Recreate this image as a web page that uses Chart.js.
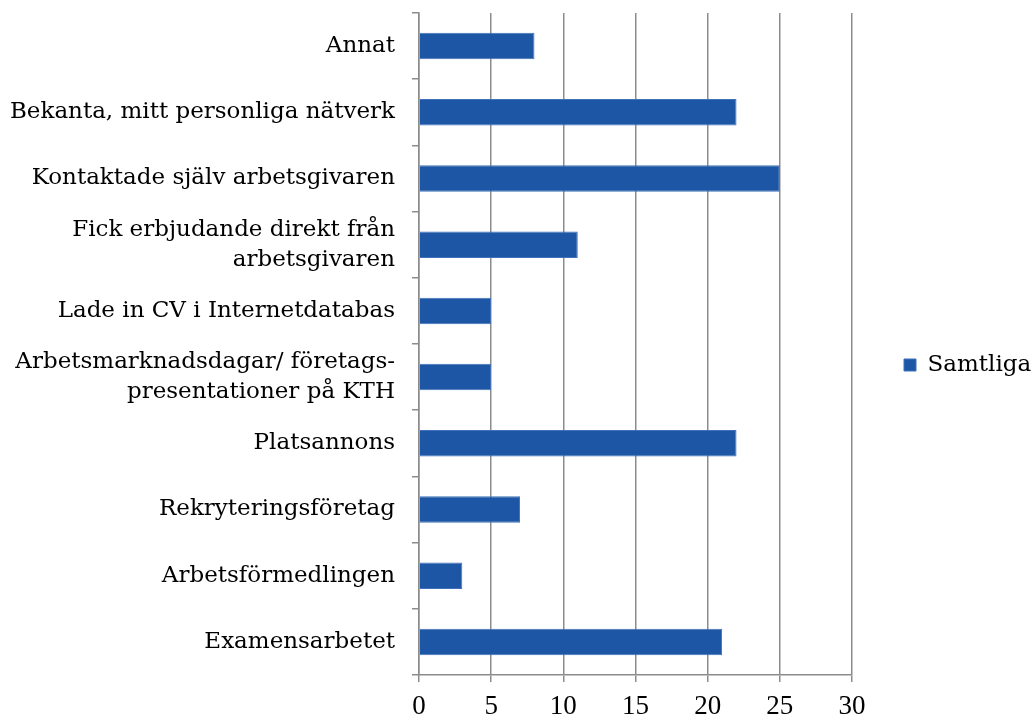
<!DOCTYPE html>
<html>
<head>
<meta charset="utf-8">
<script src="https://cdn.jsdelivr.net/npm/chart.js@4"></script>
<style>
  html, body { margin: 0; padding: 0; background: #fff; }
  #wrap { width: 1034px; height: 717px; }
</style>
</head>
<body>
<div id="wrap"><canvas id="chart"></canvas></div>
<script>
// categories, top to bottom as in the picture
const categories = [
    'Annat',
    'Bekanta, mitt personliga nätverk',
    'Kontaktade själv arbetsgivaren',
    ['Fick erbjudande direkt från', 'arbetsgivaren'],
    'Lade in CV i Internetdatabas',
    ['Arbetsmarknadsdagar/ företags-', 'presentationer på KTH'],
    'Platsannons',
    'Rekryteringsföretag',
    'Arbetsförmedlingen',
    'Examensarbetet'
];
const seriesName = 'Samtliga';
const samtliga = [8, 22, 25, 11, 5, 5, 22, 7, 3, 21];
const xTicks = [0, 5, 10, 15, 20, 25, 30];

const FONT = 'DejaVu Serif';
const NUM_FONT = 'Liberation Serif'; // taller, narrower digits like the original
const axisGray = '#8c8c8c';

const ctx = document.getElementById('chart');
new Chart(ctx, {
    type: 'bar',
    data: {
        labels: categories,
        datasets: [{
            label: seriesName,
            data: samtliga,
            backgroundColor: '#1d56a5',
            borderColor: '#3f72bb',
            borderWidth: 1,
            barPercentage: 0.4,
            categoryPercentage: 1.0
        }]
    },
    options: {
        indexAxis: 'y',
        responsive: true,
        maintainAspectRatio: false,
        animation: false,
        layout: { padding: { top: 13, right: 0, bottom: 0, left: 0 } },
        plugins: {
            tooltip: { enabled: false },
            legend: {
                position: 'right',
                maxWidth: 182,
                labels: {
                    font: { family: FONT, size: 23 },
                    color: '#000',
                    boxWidth: 12,
                    boxHeight: 12,
                    padding: 52
                }
            }
        },
        scales: {
            x: {
                min: 0,
                max: 30,
                afterBuildTicks: axis => { axis.ticks = xTicks.map(v => ({ value: v })); },
                afterFit: scale => {
                    scale.height = 42;
                    scale.paddingLeft = 0;
                    scale.paddingRight = 0;
                },
                grid: {
                    color: axisGray,
                    lineWidth: 1.5,
                    tickLength: 7,
                    drawOnChartArea: true
                },
                border: { color: axisGray, width: 1.5 },
                ticks: {
                    font: { family: NUM_FONT, size: 27, lineHeight: 1.0 },
                    color: '#000',
                    padding: 11,
                    maxRotation: 0
                }
            },
            y: {
                // the labels are wide, keep the axis where the reference has it
                afterFit: scale => {
                    scale.width = 419;
                    scale.paddingTop = 0;
                    scale.paddingBottom = 0;
                },
                grid: {
                    offset: true,
                    color: axisGray,
                    lineWidth: 1.5,
                    tickLength: 7,
                    drawOnChartArea: false
                },
                border: { color: axisGray, width: 1.5 },
                ticks: {
                    font: { family: FONT, size: 23, lineHeight: 1.3 },
                    color: '#000',
                    padding: 17,
                    autoSkip: false
                }
            }
        }
    }
});
</script>
</body>
</html>
